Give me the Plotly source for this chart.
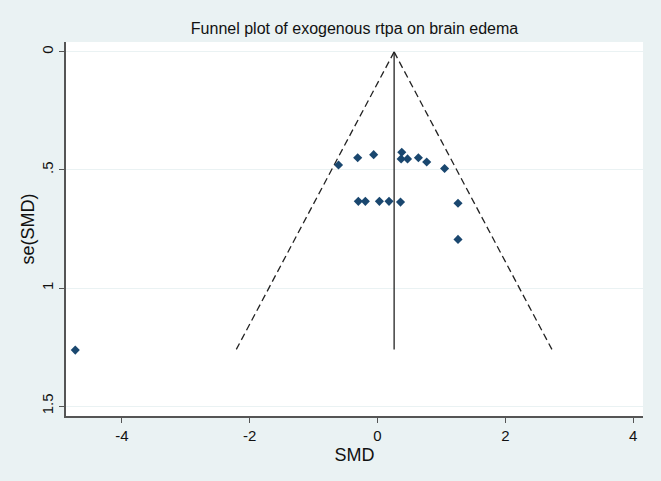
import plotly.graph_objects as go

# study effect sizes (SMD) and their standard errors
smd = [-0.61, -0.31, -0.06, 0.38, 0.37, 0.47, 0.64, 0.77, 1.05,
       -0.30, -0.19, 0.03, 0.18, 0.36, 1.26, 1.26, -4.73]
se_smd = [0.479, 0.448, 0.435, 0.425, 0.453, 0.453, 0.448, 0.466, 0.494,
          0.633, 0.633, 0.633, 0.633, 0.636, 0.641, 0.794, 1.263]

pooled = 0.26
se_max = 1.26

x_ticks = [-4, -2, 0, 2, 4]
x_tick_text = ["-4", "-2", "0", "2", "4"]
y_ticks = [0, 0.5, 1, 1.5]
y_tick_text = ["0", ".5", "1", "1.5"]

_BG = "#eaf2f3"
_NAVY = "#1a476f"
_FONT = "Liberation Sans, Arial, sans-serif"

fig = go.Figure()

# pseudo 95% confidence limits
for sign in (-1, 1):
    fig.add_trace(go.Scatter(
        x=[pooled, pooled + sign * 1.96 * se_max], y=[0, se_max],
        mode="lines", line=dict(color="#222222", width=1.3, dash="7px,4px"),
        hoverinfo="skip", showlegend=False,
    ))

# pooled estimate
fig.add_trace(go.Scatter(
    x=[pooled, pooled], y=[0, se_max], mode="lines",
    line=dict(color="#222222", width=1.3), showlegend=False,
))

fig.add_trace(go.Scatter(
    x=smd, y=se_smd, mode="markers",
    marker=dict(symbol="diamond", size=7, color=_NAVY),
    showlegend=False,
))

fig.update_layout(
    width=661, height=481,
    paper_bgcolor=_BG, plot_bgcolor="white",
    margin=dict(l=66, r=18, t=42, b=65),
    font=dict(family=_FONT, size=15, color="#111111"),
    title=dict(text="Funnel plot of exogenous rtpa on brain edema",
               x=(66 + 643) / 2 / 661, xanchor="center",
               y=1 - 28 / 481, yanchor="middle",
               font=dict(size=16, color="#111111")),
    xaxis=dict(
        range=[-4.875, 4.155], tickvals=x_ticks, ticktext=x_tick_text,
        showgrid=False,
        zeroline=False, showline=True, linecolor="#555555", linewidth=1.5,
        ticks="outside", ticklen=5, tickcolor="#555555",
        title=dict(text="SMD", standoff=6),
    ),
    yaxis=dict(
        range=[1.542, -0.042], tickvals=y_ticks, ticktext=y_tick_text,
        tickangle=-90, showgrid=True, gridcolor=_BG, gridwidth=1,
        zeroline=False, showline=True, linecolor="#555555", linewidth=1.5,
        ticks="outside", ticklen=5, tickcolor="#555555",
        title=dict(text="se(SMD)", standoff=0),
    ),
)

# the page body has a default 8px margin; drop it so the figure fills the window
fig.write_html("out.html", config={"displayModeBar": False},
               post_script="document.body.style.margin='0';")
